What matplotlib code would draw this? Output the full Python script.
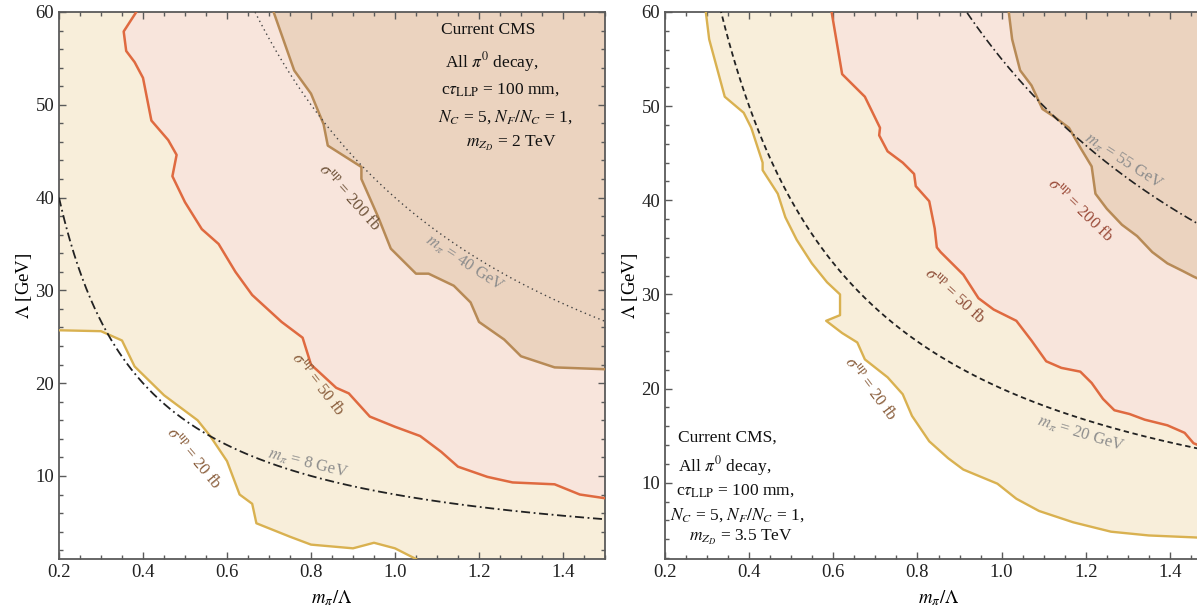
import numpy as np
import matplotlib
matplotlib.use("Agg")
import matplotlib.pyplot as plt
from matplotlib.ticker import MultipleLocator

plt.rcParams['font.family'] = 'serif'
plt.rcParams['font.serif'] = ['Liberation Serif', 'DejaVu Serif']
plt.rcParams['mathtext.fontset'] = 'stix'

# ---------------- data ----------------
# Left panel (m_ZD = 2 TeV)
L_xlim = (0.2, 1.5)
L_ylim = (1.05, 60.0)
L20_x = [0.20, 0.30, 0.35, 0.38, 0.45, 0.53, 0.56, 0.60, 0.63, 0.66, 0.67, 0.75, 0.80, 0.90, 0.95, 1.00, 1.05]
L20_y = [25.7, 25.6, 24.6, 21.8, 18.7, 16.0, 14.3, 11.6, 8.0, 7.0, 4.9, 3.45, 2.6, 2.2, 2.8, 2.2, 1.05]
L50_x = [0.384, 0.354, 0.36, 0.38, 0.40, 0.42, 0.46, 0.48, 0.47, 0.50, 0.54, 0.58, 0.62, 0.66, 0.73, 0.78,
         0.80, 0.86, 0.89, 0.94, 1.00, 1.06, 1.11, 1.15, 1.22, 1.28, 1.38, 1.44, 1.50]
L50_y = [60.0, 57.9, 55.8, 54.6, 52.9, 48.3, 46.2, 44.6, 42.3, 39.5, 36.6, 35.0, 32.0, 29.5, 26.6, 24.9,
         22.0, 19.5, 18.9, 16.4, 15.3, 14.3, 12.6, 11.0, 9.9, 9.3, 9.1, 8.0, 7.6]
L200_x = [0.711, 0.76, 0.80, 0.83, 0.84, 0.92, 0.92, 0.96, 0.99, 1.05, 1.08, 1.14, 1.18, 1.20, 1.26, 1.30, 1.38, 1.50]
L200_y = [60.0, 53.7, 51.2, 47.9, 45.6, 43.3, 42.0, 37.9, 34.5, 31.8, 31.8, 30.5, 28.7, 26.6, 24.7, 22.9, 21.7, 21.5]
L_masses = [40, 8]

# Right panel (m_ZD = 3.5 TeV)
R_xlim = (0.2, 1.5)
R_ylim = (1.9, 60.0)
R20_x = [0.297, 0.305, 0.342, 0.387, 0.405, 0.432, 0.432, 0.468, 0.486, 0.513, 0.549, 0.585, 0.616, 0.616,
         0.583, 0.621, 0.657, 0.675, 0.729, 0.765, 0.787, 0.828, 0.873, 0.909, 0.99, 1.035, 1.089, 1.17,
         1.26, 1.35, 1.455, 1.50]
R20_y = [60.0, 57.1, 51.0, 49.3, 47.7, 44.0, 43.2, 40.7, 38.2, 35.8, 33.3, 31.3, 30.0, 27.8,
         27.2, 25.9, 24.9, 23.1, 21.2, 19.4, 17.1, 14.4, 12.6, 11.4, 9.9, 8.3, 7.0, 5.8,
         4.8, 4.4, 4.2, 4.1]
R50_x = [0.596, 0.621, 0.675, 0.711, 0.709, 0.729, 0.765, 0.792, 0.796, 0.828, 0.841, 0.846, 0.855, 0.882,
         0.909, 0.945, 0.981, 1.035, 1.071, 1.106, 1.142, 1.187, 1.214, 1.241, 1.268, 1.304, 1.340, 1.394,
         1.435, 1.456, 1.50]
R50_y = [60.0, 53.4, 51.0, 47.7, 46.9, 45.2, 44.0, 42.8, 41.5, 39.9, 37.0, 35.0, 34.5, 33.3,
         32.1, 29.6, 28.4, 27.2, 25.1, 22.9, 22.2, 21.8, 20.6, 18.9, 17.7, 17.3, 16.7, 16.1,
         15.3, 14.2, 13.4]
R200_x = [1.017, 1.025, 1.044, 1.071, 1.097, 1.124, 1.16, 1.187, 1.214, 1.223, 1.25, 1.286, 1.322, 1.358,
          1.394, 1.43, 1.456, 1.50]
R200_y = [60.0, 57.1, 53.8, 52.2, 49.7, 48.9, 47.7, 45.6, 43.6, 40.7, 39.1, 37.4, 36.2, 34.5,
          33.3, 32.5, 31.9, 31.0]
R_masses = [20, 55]

# ---------------- styling ----------------
C_YEL_FILL = '#F8EEDA'
C_RED_FILL = '#F8E5DC'
C_BRN_FILL = '#EBD3BF'
C_YEL_LINE = '#D9B150'
C_RED_LINE = '#DF6A40'
C_BRN_LINE = '#B78A56'
C_LAB = '#8A5E3C'
C_MLAB = '#8C8C8C'
SPINE = '#5a5a5a'

fig = plt.figure(figsize=(11.97, 6.09), dpi=100)
axL = fig.add_axes([59/1197, 1-559/609, 546/1197, 547/609])
axR = fig.add_axes([665/1197, 1-559/609, 547/1197, 547/609])


def region(ax, xs, ys, xlim, ylim, color):
    x0, x1 = xlim
    y0, y1 = ylim
    m = 5.0
    px = list(xs)
    py = list(ys)
    if py[-1] <= y0 + 0.3:
        px += [px[-1], x1 + m]
        py += [y0 - m, y0 - m]
    else:
        px += [x1 + m]
        py += [py[-1]]
    px += [x1 + m]
    py += [y1 + m]
    if py[0] >= y1 - 0.3:
        px += [px[0]]
        py += [y1 + m]
    else:
        px += [x0 - m, x0 - m]
        py += [y1 + m, py[0]]
    ax.fill(px, py, color=color, lw=0, zorder=1)


def style(ax, xlim, ylim):
    ax.set_xlim(*xlim)
    ax.set_ylim(*ylim)
    ax.xaxis.set_minor_locator(MultipleLocator(0.05))
    ax.yaxis.set_major_locator(MultipleLocator(10))
    ax.yaxis.set_minor_locator(MultipleLocator(2))
    ax.set_xticks([0.2, 0.4, 0.6, 0.8, 1.0, 1.2, 1.4])
    ax.tick_params(which='both', direction='in', top=True, right=True, color=SPINE,
                   labelcolor='#222222', labelsize=13.5, width=1.0)
    ax.tick_params(which='major', length=5)
    ax.tick_params(which='minor', length=3)
    for s in ax.spines.values():
        s.set_color(SPINE)
        s.set_linewidth(1.3)
    ax.set_xlabel(r'$m_\pi/\Lambda$', fontsize=13.5, labelpad=5)
    ax.set_ylabel(r'$\Lambda$ [GeV]', fontsize=13.5, labelpad=1)


# ---------- left panel ----------
style(axL, L_xlim, L_ylim)
region(axL, L20_x, L20_y, L_xlim, L_ylim, C_YEL_FILL)
region(axL, L50_x, L50_y, L_xlim, L_ylim, C_RED_FILL)
region(axL, L200_x, L200_y, L_xlim, L_ylim, C_BRN_FILL)
axL.plot(L20_x, L20_y, color=C_YEL_LINE, lw=1.7, zorder=3)
axL.plot(L50_x, L50_y, color=C_RED_LINE, lw=1.8, zorder=3)
axL.plot(L200_x, L200_y, color=C_BRN_LINE, lw=1.8, zorder=3)
xx = np.linspace(0.2, 1.5, 400)
axL.plot(xx, L_masses[0] / xx, color='#444444', lw=1.0, ls=(0, (1, 2.5)), zorder=4)
axL.plot(xx, L_masses[1] / xx, color='#222222', lw=1.3, ls=(0, (5, 2, 1, 2)), zorder=4)

axL.text(0.891, 40.0, r'$\sigma^{\rm up}$ = 200 fb', rotation=-48, color='#6e5238',
         fontsize=12, ha='center', va='center', rotation_mode='anchor', zorder=5)
axL.text(0.815, 19.8, r'$\sigma^{\rm up}$ = 50 fb', rotation=-52, color=C_LAB,
         fontsize=12, ha='center', va='center', rotation_mode='anchor', zorder=5)
axL.text(0.521, 11.9, r'$\sigma^{\rm up}$ = 20 fb', rotation=-50, color=C_LAB,
         fontsize=12, ha='center', va='center', rotation_mode='anchor', zorder=5)
axL.text(1.166, 32.9, r'$m_\pi$ = 40 GeV', rotation=-33, color=C_MLAB,
         fontsize=12, ha='center', va='center', rotation_mode='anchor', zorder=5)
axL.text(0.793, 11.3, r'$m_\pi$ = 8 GeV', rotation=-14, color=C_MLAB,
         fontsize=12, ha='center', va='center', rotation_mode='anchor', zorder=5)

boxL = [(1.11, 58.1, 'Current CMS'),
        (1.119, 54.6, r'All $\pi^0$ decay,'),
        (1.11, 51.6, r'c$\tau_{\rm LLP}$ = 100 mm,'),
        (1.103, 48.7, r'$N_C$ = 5, $N_F/N_C$ = 1,'),
        (1.168, 45.8, r'$m_{Z_D}$ = 2 TeV')]
for x, y, t in boxL:
    axL.text(x, y, t, fontsize=12.5, ha='left', va='center', color='#111111', zorder=6)

# ---------- right panel ----------
style(axR, R_xlim, R_ylim)
region(axR, R20_x, R20_y, R_xlim, R_ylim, C_YEL_FILL)
region(axR, R50_x, R50_y, R_xlim, R_ylim, C_RED_FILL)
region(axR, R200_x, R200_y, R_xlim, R_ylim, C_BRN_FILL)
axR.plot(R20_x, R20_y, color=C_YEL_LINE, lw=1.7, zorder=3)
axR.plot(R50_x, R50_y, color=C_RED_LINE, lw=1.8, zorder=3)
axR.plot(R200_x, R200_y, color=C_BRN_LINE, lw=1.8, zorder=3)
axR.plot(xx, R_masses[0] / xx, color='#222222', lw=1.3, ls=(0, (3, 2)), zorder=4)
axR.plot(xx, R_masses[1] / xx, color='#222222', lw=1.2, ls=(0, (5, 2, 1, 2)), zorder=4)

axR.text(1.291, 44.1, r'$m_\pi$ = 55 GeV', rotation=-33, color=C_MLAB,
         fontsize=12, ha='center', va='center', rotation_mode='anchor', zorder=5)
axR.text(1.187, 38.9, r'$\sigma^{\rm up}$ = 200 fb', rotation=-44, color='#9a4a38',
         fontsize=12, ha='center', va='center', rotation_mode='anchor', zorder=5)
axR.text(0.889, 29.8, r'$\sigma^{\rm up}$ = 50 fb', rotation=-42, color='#8e4e38',
         fontsize=12, ha='center', va='center', rotation_mode='anchor', zorder=5)
axR.text(0.688, 19.9, r'$\sigma^{\rm up}$ = 20 fb', rotation=-53, color=C_LAB,
         fontsize=12, ha='center', va='center', rotation_mode='anchor', zorder=5)
axR.text(1.189, 15.2, r'$m_\pi$ = 20 GeV', rotation=-17, color=C_MLAB,
         fontsize=12, ha='center', va='center', rotation_mode='anchor', zorder=5)

boxR = [(0.23, 14.8, 'Current CMS,'),
        (0.23, 11.8, r'All $\pi^0$ decay,'),
        (0.225, 9.2, r'c$\tau_{\rm LLP}$ = 100 mm,'),
        (0.212, 6.6, r'$N_C$ = 5, $N_F/N_C$ = 1,'),
        (0.257, 4.2, r'$m_{Z_D}$ = 3.5 TeV')]
for x, y, t in boxR:
    axR.text(x, y, t, fontsize=12.5, ha='left', va='center', color='#111111', zorder=6)

fig.savefig('out.png', dpi=100)
